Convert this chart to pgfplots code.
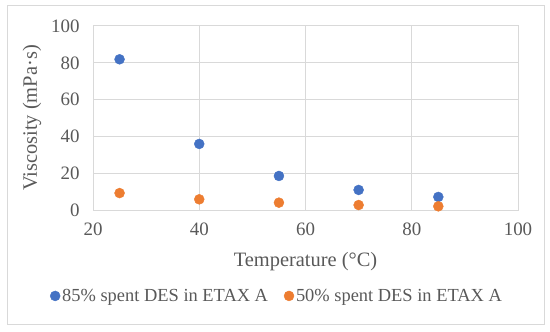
\documentclass[border=0pt]{standalone}
\usepackage{fontspec}
\setmainfont{Liberation Serif}
\usepackage{pgfplots}
\pgfplotsset{compat=1.18}
\definecolor{cblue}{HTML}{4472C4}
\definecolor{corange}{HTML}{ED7D31}
\definecolor{cgrid}{HTML}{D9D9D9}
\definecolor{ctext}{HTML}{595959}
\begin{document}
\begin{tikzpicture}[x=1bp,y=1bp]
\path[use as bounding box] (0,0) rectangle (550,331);
\draw[cgrid, line width=1bp] (7,7) rectangle (544,325);
\begin{axis}[
  at={(93bp,121bp)}, anchor=south west,
  scale only axis, width=425bp, height=184bp,
  xmin=20, xmax=100, ymin=0, ymax=100,
  xtick={20,40,60,80,100}, ytick={0,20,40,60,80,100},
  grid=major, major grid style={cgrid, line width=1bp},
  axis line style={cgrid, line width=1bp},
  tick style={draw=none},
  /pgf/number format/assume math mode=true,
  ticklabel style={font=\fontsize{19}{21}\selectfont, text=ctext},
  xticklabel style={yshift=-9bp},
  yticklabel style={xshift=-10bp},
  xlabel={Temperature (°C)},
  ylabel={Viscosity (mPa·s)},
  label style={font=\fontsize{20.5}{22}\selectfont, text=ctext},
  xlabel style={at={(axis description cs:0.5,-0.283)}, anchor=center},
  ylabel style={at={(axis description cs:-0.1435,0.5)}, anchor=center, rotate=0},
  legend columns=2,
  legend image code/.code={\draw[#1] plot coordinates {(5bp,0bp)};},
  legend style={draw=none, fill=none, at={(axis description cs:0.433,-0.467)}, anchor=center,
    font=\fontsize{18.5}{20}\selectfont, text=ctext,
    /tikz/every even column/.append style={column sep=14bp}},
  legend cell align=left,
]
\addplot[only marks, mark=*, mark size=5bp, color=cblue, mark options={fill=cblue, draw=cblue}]
coordinates {(25,81.9) (40,35.9) (55,18.5) (70,10.9) (85,7.1)};
\addlegendentry{85\% spent DES in ETAX A}
\addplot[only marks, mark=*, mark size=5bp, color=corange, mark options={fill=corange, draw=corange}]
coordinates {(25,9.2) (40,5.8) (55,4.0) (70,2.7) (85,2.0)};
\addlegendentry{50\% spent DES in ETAX A}
\end{axis}
\end{tikzpicture}
\end{document}
